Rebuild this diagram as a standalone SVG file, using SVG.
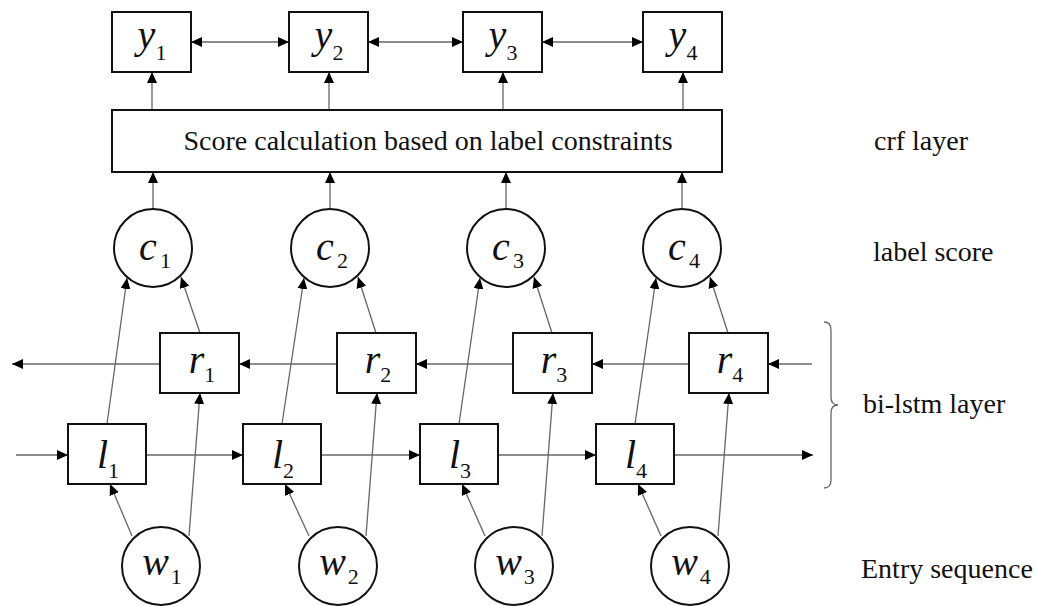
<svg xmlns="http://www.w3.org/2000/svg" width="1037" height="606" viewBox="0 0 1037 606">
<style>
.box{fill:#fff;stroke:#111;stroke-width:2}
.cir{fill:#fff;stroke:#111;stroke-width:2}
.con{fill:none;stroke:#666;stroke-width:1.3}
.v{font-size:40px;fill:#111}
.i{font-style:italic}
.s{font-size:22px;font-style:normal}
.lab{font-size:28px;fill:#111}
</style>
<defs>
<marker id="ah" markerWidth="11" markerHeight="10" refX="11" refY="5" orient="auto-start-reverse" markerUnits="userSpaceOnUse">
<path d="M0,0 L11,5 L0,10 z" fill="#000"/>
</marker>
</defs>
<rect width="1037" height="606" fill="#fff"/>
<g id="connectors">
<line class="con" x1="191" y1="42" x2="289" y2="42" marker-start="url(#ah)" marker-end="url(#ah)"/>
<line class="con" x1="368" y1="42" x2="463" y2="42" marker-start="url(#ah)" marker-end="url(#ah)"/>
<line class="con" x1="542" y1="42" x2="643" y2="42" marker-start="url(#ah)" marker-end="url(#ah)"/>
<line class="con" x1="152" y1="110" x2="152" y2="72" marker-end="url(#ah)"/>
<line class="con" x1="329" y1="110" x2="329" y2="72" marker-end="url(#ah)"/>
<line class="con" x1="503" y1="110" x2="503" y2="72" marker-end="url(#ah)"/>
<line class="con" x1="683" y1="110" x2="683" y2="72" marker-end="url(#ah)"/>
<line class="con" x1="153" y1="209" x2="153" y2="172" marker-end="url(#ah)"/>
<line class="con" x1="330" y1="209" x2="330" y2="172" marker-end="url(#ah)"/>
<line class="con" x1="506" y1="209" x2="506" y2="172" marker-end="url(#ah)"/>
<line class="con" x1="682" y1="209" x2="682" y2="172" marker-end="url(#ah)"/>
<line class="con" x1="107" y1="424" x2="127" y2="278" marker-end="url(#ah)"/>
<line class="con" x1="282" y1="424" x2="304" y2="278" marker-end="url(#ah)"/>
<line class="con" x1="459" y1="424" x2="480" y2="278" marker-end="url(#ah)"/>
<line class="con" x1="635" y1="424" x2="656" y2="278" marker-end="url(#ah)"/>
<line class="con" x1="200" y1="333" x2="181" y2="277" marker-end="url(#ah)"/>
<line class="con" x1="376" y1="333" x2="358" y2="277" marker-end="url(#ah)"/>
<line class="con" x1="552" y1="333" x2="534" y2="277" marker-end="url(#ah)"/>
<line class="con" x1="728" y1="333" x2="710" y2="277" marker-end="url(#ah)"/>
<line class="con" x1="812" y1="364" x2="768" y2="364" marker-end="url(#ah)"/>
<line class="con" x1="689" y1="364" x2="592" y2="364" marker-end="url(#ah)"/>
<line class="con" x1="513" y1="364" x2="416" y2="364" marker-end="url(#ah)"/>
<line class="con" x1="337" y1="364" x2="239" y2="364" marker-end="url(#ah)"/>
<line class="con" x1="160" y1="364" x2="12" y2="364" marker-end="url(#ah)"/>
<line class="con" x1="16" y1="455" x2="68" y2="455" marker-end="url(#ah)"/>
<line class="con" x1="146" y1="455" x2="243" y2="455" marker-end="url(#ah)"/>
<line class="con" x1="321" y1="455" x2="420" y2="455" marker-end="url(#ah)"/>
<line class="con" x1="498" y1="455" x2="596" y2="455" marker-end="url(#ah)"/>
<line class="con" x1="674" y1="455" x2="813" y2="455" marker-end="url(#ah)"/>
<line class="con" x1="132" y1="536" x2="110" y2="484" marker-end="url(#ah)"/>
<line class="con" x1="309" y1="536" x2="285" y2="484" marker-end="url(#ah)"/>
<line class="con" x1="485" y1="536" x2="462" y2="484" marker-end="url(#ah)"/>
<line class="con" x1="661" y1="536" x2="638" y2="484" marker-end="url(#ah)"/>
<line class="con" x1="189" y1="536" x2="200" y2="393" marker-end="url(#ah)"/>
<line class="con" x1="366" y1="536" x2="377" y2="393" marker-end="url(#ah)"/>
<line class="con" x1="542" y1="536" x2="553" y2="393" marker-end="url(#ah)"/>
<line class="con" x1="718" y1="536" x2="729" y2="393" marker-end="url(#ah)"/>
</g>
<g font-family="Liberation Serif, DejaVu Serif, serif">
<g id="y1"><rect class="box" x="112" y="12" width="79" height="60"/><text class="v" x="152" y="48" text-anchor="middle"><tspan class="i">y</tspan><tspan class="s" dy="12">1</tspan></text></g>
<g id="y2"><rect class="box" x="289" y="12" width="79" height="60"/><text class="v" x="329" y="48" text-anchor="middle"><tspan class="i">y</tspan><tspan class="s" dy="12">2</tspan></text></g>
<g id="y3"><rect class="box" x="463" y="12" width="79" height="60"/><text class="v" x="503" y="48" text-anchor="middle"><tspan class="i">y</tspan><tspan class="s" dy="12">3</tspan></text></g>
<g id="y4"><rect class="box" x="643" y="12" width="79" height="60"/><text class="v" x="683" y="48" text-anchor="middle"><tspan class="i">y</tspan><tspan class="s" dy="12">4</tspan></text></g>
<g id="score"><rect class="box" x="112" y="110" width="610" height="62"/><text class="lab" x="428" y="150" text-anchor="middle">Score calculation based on label constraints</text></g>
<g id="c1"><circle class="cir" cx="153" cy="248" r="39"/><text class="v" x="155" y="260" text-anchor="middle"><tspan class="i">c</tspan><tspan class="s" dx="3" dy="8">1</tspan></text></g>
<g id="c2"><circle class="cir" cx="330" cy="248" r="39"/><text class="v" x="332" y="260" text-anchor="middle"><tspan class="i">c</tspan><tspan class="s" dx="3" dy="8">2</tspan></text></g>
<g id="c3"><circle class="cir" cx="506" cy="248" r="39"/><text class="v" x="508" y="260" text-anchor="middle"><tspan class="i">c</tspan><tspan class="s" dx="3" dy="8">3</tspan></text></g>
<g id="c4"><circle class="cir" cx="682" cy="248" r="39"/><text class="v" x="684" y="260" text-anchor="middle"><tspan class="i">c</tspan><tspan class="s" dx="3" dy="8">4</tspan></text></g>
<g id="r1"><rect class="box" x="160" y="333" width="79" height="60"/><text class="v" x="202" y="373" text-anchor="middle"><tspan class="i">r</tspan><tspan class="s" dy="9">1</tspan></text></g>
<g id="r2"><rect class="box" x="337" y="333" width="79" height="60"/><text class="v" x="378" y="373" text-anchor="middle"><tspan class="i">r</tspan><tspan class="s" dy="9">2</tspan></text></g>
<g id="r3"><rect class="box" x="513" y="333" width="79" height="60"/><text class="v" x="554" y="373" text-anchor="middle"><tspan class="i">r</tspan><tspan class="s" dy="9">3</tspan></text></g>
<g id="r4"><rect class="box" x="689" y="333" width="79" height="60"/><text class="v" x="730" y="373" text-anchor="middle"><tspan class="i">r</tspan><tspan class="s" dy="9">4</tspan></text></g>
<g id="l1"><rect class="box" x="68" y="424" width="78" height="60"/><text class="v" x="108" y="468" text-anchor="middle"><tspan class="i">l</tspan><tspan class="s" dy="10">1</tspan></text></g>
<g id="l2"><rect class="box" x="243" y="424" width="78" height="60"/><text class="v" x="283" y="468" text-anchor="middle"><tspan class="i">l</tspan><tspan class="s" dy="10">2</tspan></text></g>
<g id="l3"><rect class="box" x="420" y="424" width="78" height="60"/><text class="v" x="460" y="468" text-anchor="middle"><tspan class="i">l</tspan><tspan class="s" dy="10">3</tspan></text></g>
<g id="l4"><rect class="box" x="596" y="424" width="78" height="60"/><text class="v" x="636" y="468" text-anchor="middle"><tspan class="i">l</tspan><tspan class="s" dy="10">4</tspan></text></g>
<g id="w1"><circle class="cir" cx="161" cy="566" r="39"/><text class="v" x="162" y="575" text-anchor="middle"><tspan class="i">w</tspan><tspan class="s" dx="2" dy="9">1</tspan></text></g>
<g id="w2"><circle class="cir" cx="338" cy="566" r="39"/><text class="v" x="339" y="575" text-anchor="middle"><tspan class="i">w</tspan><tspan class="s" dx="2" dy="9">2</tspan></text></g>
<g id="w3"><circle class="cir" cx="514" cy="566" r="39"/><text class="v" x="515" y="575" text-anchor="middle"><tspan class="i">w</tspan><tspan class="s" dx="2" dy="9">3</tspan></text></g>
<g id="w4"><circle class="cir" cx="690" cy="566" r="39"/><text class="v" x="691" y="575" text-anchor="middle"><tspan class="i">w</tspan><tspan class="s" dx="2" dy="9">4</tspan></text></g>
<g id="brace"><path class="con" d="M824 322 Q831 322 831 330 L831 397 Q831 405 838 405 Q831 405 831 413 L831 480 Q831 488 824 488"/></g>
<g id="labels">
<text class="lab" x="874" y="150">crf layer</text>
<text class="lab" x="873" y="261">label score</text>
<text class="lab" x="863" y="413">bi-lstm layer</text>
<text class="lab" x="861" y="578">Entry sequence</text>
</g>
</g>
</svg>
